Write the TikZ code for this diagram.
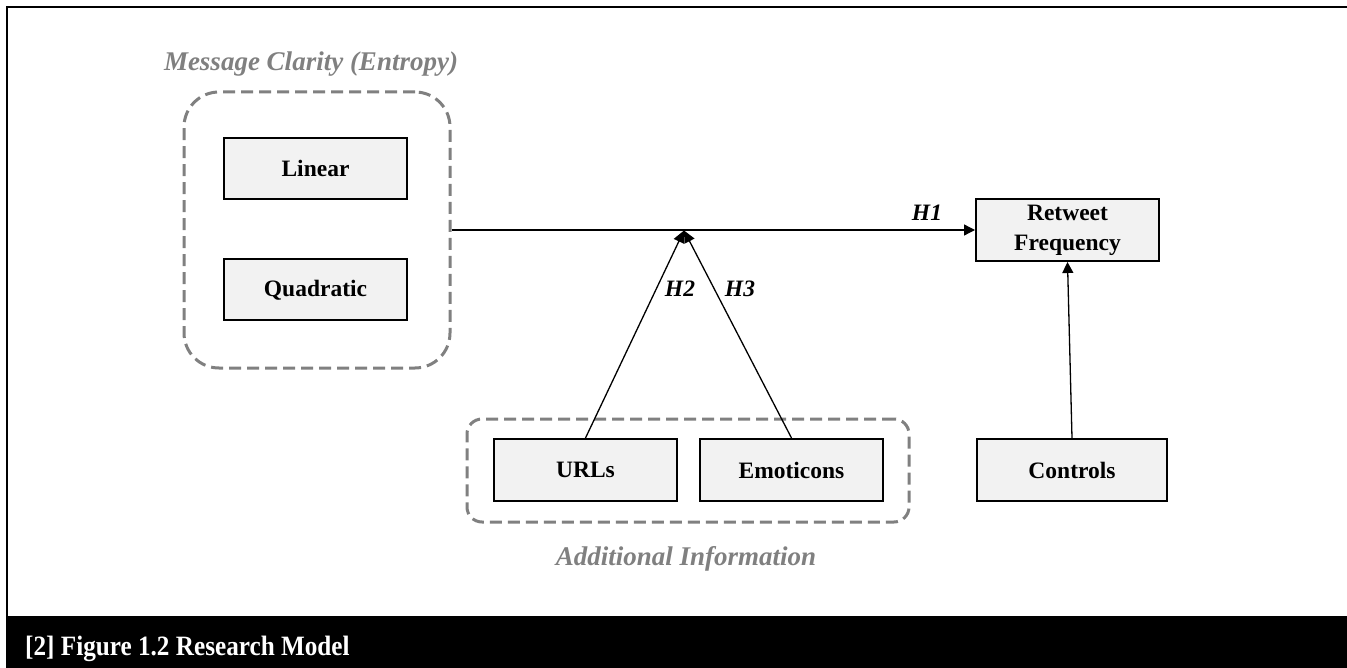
\documentclass[tikz,border=0pt]{standalone}
\usepackage{fontspec}
\setmainfont{Liberation Serif}
\usetikzlibrary{arrows.meta}
\definecolor{boxfill}{HTML}{F2F2F2}
\definecolor{grp}{HTML}{808080}
\tikzset{
  varbox/.style={draw=black, line width=2pt, fill=boxfill, minimum width=183pt, minimum height=61pt, inner sep=0pt, align=center, font=\fontsize{23.5}{30}\selectfont\bfseries},
  groupbox/.style={draw=grp, line width=3pt, dash pattern=on 12pt off 6pt, inner sep=0pt},
  grouplabel/.style={text=grp, font=\fontsize{27}{30}\selectfont\bfseries\itshape, inner sep=0pt, anchor=base},
  hyp/.style={font=\fontsize{23.5}{26}\selectfont\bfseries\itshape, inner sep=0pt, anchor=base},
  link/.style={draw=black, line width=1.3pt},
  arrowlink/.style={link, -{Triangle[length=11pt, width=11pt]}},
  mergelink/.style={link, -{Triangle[length=12pt, width=11pt]}},
}
\begin{document}
\begin{tikzpicture}[x=1pt, y=-1pt]
\useasboundingbox (0,0) rectangle (1347,668);
% frame
\draw[line width=2pt] (7,616) -- (7,7) -- (1347,7);
\fill[black] (6,616) rectangle (1347,668);
\node[anchor=base west, inner sep=0pt, text=white, xscale=0.9, font=\fontsize{28}{30}\selectfont\bfseries] (cap) at (25,655) {[2] Figure 1.2 Research Model};
% groups
\node[groupbox, rounded corners=35pt, minimum width=266pt, minimum height=276pt] (g1) at (317,230) {};
\node[groupbox, rounded corners=15pt, minimum width=442pt, minimum height=103pt] (g2) at (688,470.5) {};
\node[grouplabel] (l1) at (311,71) {Message Clarity (Entropy)};
\node[grouplabel] (l2) at (686,565) {Additional Information};
% boxes
\node[varbox] (lin) at (315.5,168.5) {Linear};
\node[varbox] (quad) at (315.5,290) {Quadratic};
\node[varbox, minimum height=62pt] (ret) at (1067.5,230) {Retweet\\Frequency};
\node[varbox, minimum width=190pt, minimum height=62pt] (ctrl) at (1072,470) {Controls};
\node[varbox, minimum height=62pt] (url) at (585.5,470) {URLs};
\node[varbox, minimum height=62pt] (emo) at (791.5,470) {Emoticons};
% connectors
\coordinate (m) at (684,230.5);
\draw[arrowlink] (g1.east) -- (ret.west);
\draw[mergelink] (url.north) -- (m);
\draw[mergelink] (emo.north) -- (m);
\draw[arrowlink] (ctrl.north) -- (ret.south);
% hypothesis labels
\node[hyp] (h1) at (927,221) {H1};
\node[hyp] (h2) at (680,297) {H2};
\node[hyp] (h3) at (740,297) {H3};
\end{tikzpicture}
\end{document}
